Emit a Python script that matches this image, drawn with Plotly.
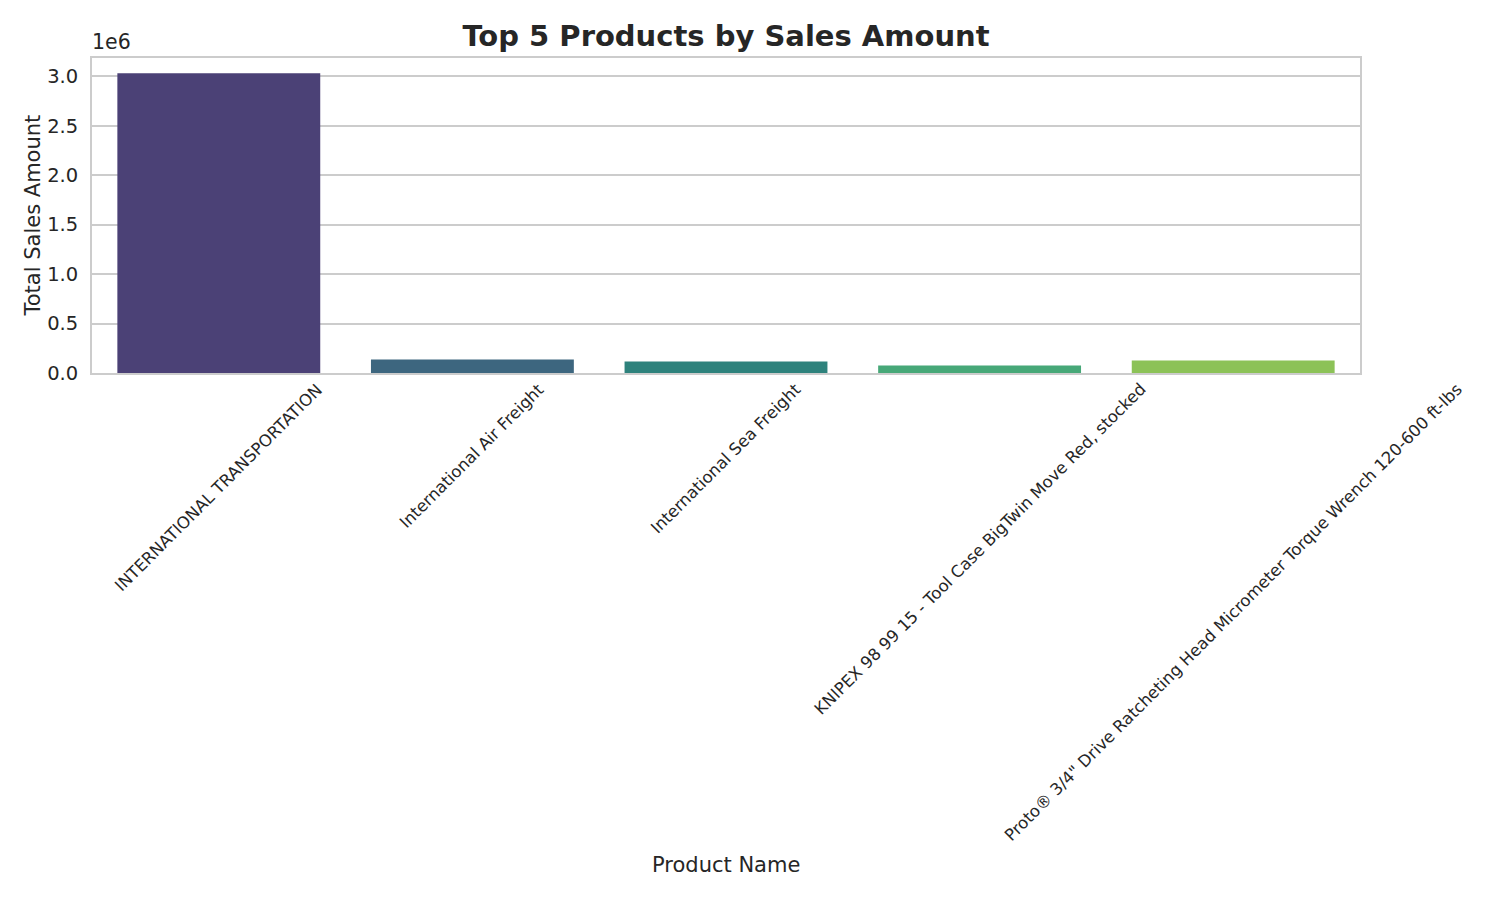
import plotly.graph_objects as go

products = [
    "INTERNATIONAL TRANSPORTATION",
    "International Air Freight",
    "International Sea Freight",
    "KNIPEX 98 99 15 - Tool Case BigTwin Move Red, stocked",
    "Proto® 3/4\" Drive Ratcheting Head Micrometer Torque Wrench 120-600 ft-lbs",
]
sales = [3030000, 137000, 117000, 77000, 127000]
bar_colors = ["#4b4176", "#3d667f", "#2e827c", "#47a878", "#8cc257"]
ytick_vals = [0, 500000, 1000000, 1500000, 2000000, 2500000, 3000000]
ytick_text = ["0.0", "0.5", "1.0", "1.5", "2.0", "2.5", "3.0"]

FONT = "DejaVu Sans"
TXT = "#262626"
GRID = "#cccccc"

# page has an 8px body offset; figure sized so the plot lands where the reference has it
W, H = 1484, 884
L, T, PW, PH = 84, 50, 1268, 315

fig = go.Figure()
fig.add_trace(go.Bar(
    x=list(range(len(products))),
    y=sales,
    marker=dict(color=bar_colors, line=dict(width=0)),
    width=0.8,
    showlegend=False,
))

annotations = []
for i, name in enumerate(products):
    annotations.append(dict(
        x=i, xref="x", y=0, yref="paper",
        text=name, showarrow=False, textangle=-45,
        xanchor="center", yanchor="top", yshift=-4,
        font=dict(family=FONT, size=16.5, color=TXT),
    ))
annotations.append(dict(
    x=0, xref="paper", y=1, yref="paper", text="1e6", showarrow=False,
    xanchor="left", yanchor="bottom", yshift=2, xshift=-2,
    font=dict(family=FONT, size=20.5, color=TXT),
))
annotations.append(dict(
    x=0.5, xref="paper", y=0, yref="paper", yshift=-492, text="Product Name",
    showarrow=False, xanchor="center", yanchor="middle",
    font=dict(family=FONT, size=21, color=TXT),
))
annotations.append(dict(
    x=0, xref="paper", xshift=-60, y=0.5, yref="paper", text="Total Sales Amount",
    showarrow=False, textangle=-90, xanchor="center", yanchor="middle",
    font=dict(family=FONT, size=21, color=TXT),
))

fig.update_layout(
    width=W, height=H,
    margin=dict(l=L, r=W - L - PW, t=T, b=H - T - PH, autoexpand=False),
    paper_bgcolor="white", plot_bgcolor="white",
    title=dict(
        text="<b>Top 5 Products by Sales Amount</b>",
        x=(L + PW / 2) / W, xanchor="center",
        y=1 - 28 / H, yanchor="middle",
        font=dict(family=FONT, size=29, color=TXT),
    ),
    font=dict(family=FONT, color=TXT),
    annotations=annotations,
    xaxis=dict(
        range=[-0.5, len(products) - 0.5],
        showticklabels=False, ticks="", showgrid=False, zeroline=False,
        showline=True, linecolor=GRID, linewidth=1.8, mirror=True,
    ),
    yaxis=dict(
        range=[0, 3185000],
        tickvals=ytick_vals, ticktext=ytick_text,
        tickfont=dict(family=FONT, size=19.5, color=TXT),
        ticks="", ticklabelstandoff=8,
        showgrid=True, gridcolor=GRID, gridwidth=1.8, zeroline=False,
        showline=True, linecolor=GRID, linewidth=1.8, mirror=True,
    ),
    bargap=0.2,
)

fig.write_html("out.html")
